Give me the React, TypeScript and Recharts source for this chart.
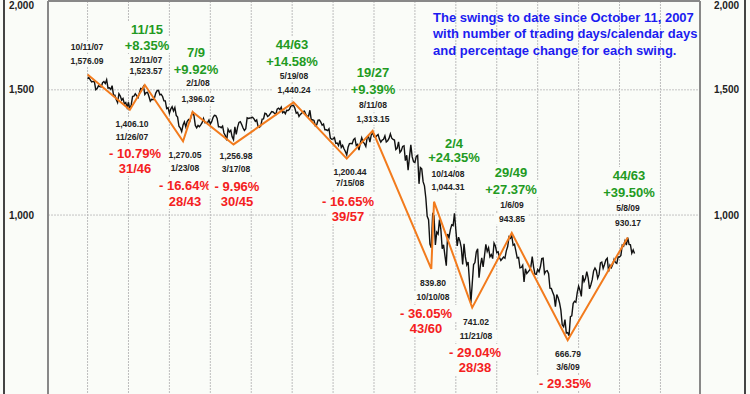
import React from "react";
import { LineChart, Line, XAxis, YAxis, CartesianGrid, ReferenceLine } from "recharts";

/* ── S&P 500 daily closes, 10/11/07 → 5/15/09 (trading-day index 0…401) ── */
const closesOct07 = [1554.41, 1561.8, 1548.71, 1538.53, 1541.24, 1540.08, 1500.63, 1506.33, 1519.59, 1515.88, 1514.4, 1535.28, 1540.98, 1531.02, 1549.38];
const closesNov07 = [1508.44, 1509.65, 1502.17, 1520.27, 1475.62, 1474.77, 1453.7, 1439.18, 1481.05, 1470.58, 1451.15, 1458.74, 1433.27, 1439.7, 1416.77, 1440.7, 1407.22, 1428.23, 1469.02, 1469.72, 1481.14];
const closesDec07 = [1472.42, 1462.79, 1485.01, 1507.34, 1504.66, 1515.96, 1477.65, 1486.59, 1488.41, 1467.95, 1445.9, 1454.98, 1453.0, 1460.12, 1484.46, 1496.45, 1497.66, 1476.27, 1478.49, 1468.36];
const closesJan08 = [1447.16, 1447.16, 1411.63, 1416.18, 1390.19, 1409.13, 1420.33, 1401.02, 1416.25, 1380.95, 1373.2, 1333.25, 1325.19, 1310.5, 1338.6, 1352.07, 1330.61, 1353.96, 1362.3, 1355.81, 1378.55];
const closesFeb08 = [1395.42, 1380.82, 1336.64, 1326.45, 1336.91, 1331.29, 1339.13, 1348.86, 1367.21, 1348.86, 1349.99, 1348.78, 1360.03, 1342.53, 1353.11, 1371.8, 1381.29, 1380.02, 1367.68, 1330.63];
const closesMar08 = [1331.34, 1326.75, 1333.7, 1304.34, 1293.37, 1273.37, 1320.65, 1308.77, 1315.48, 1288.14, 1276.6, 1330.74, 1298.42, 1329.51, 1349.88, 1352.99, 1341.13, 1325.76, 1315.22, 1322.7];
const closesApr08 = [1370.18, 1367.53, 1369.31, 1370.4, 1372.54, 1365.54, 1354.49, 1360.55, 1332.83, 1328.32, 1334.43, 1364.71, 1365.56, 1390.33, 1388.17, 1375.94, 1379.93, 1388.82, 1397.84, 1396.37, 1390.94, 1385.59];
const closesMay08 = [1409.34, 1413.9, 1407.49, 1418.26, 1392.57, 1397.68, 1388.28, 1403.58, 1403.04, 1408.66, 1423.57, 1425.35, 1426.63, 1413.4, 1390.71, 1394.35, 1375.93, 1385.35, 1390.84, 1398.26, 1400.38];
const closesJun08 = [1385.67, 1377.65, 1377.2, 1404.05, 1360.68, 1361.76, 1358.44, 1335.49, 1339.87, 1360.03, 1360.14, 1350.93, 1337.81, 1342.83, 1317.93, 1318.0, 1314.29, 1321.97, 1283.15, 1278.38, 1280.0];
const closesJul08 = [1284.91, 1261.52, 1262.9, 1252.31, 1273.7, 1244.69, 1253.39, 1239.49, 1228.3, 1214.91, 1245.36, 1260.32, 1260.68, 1260.0, 1277.0, 1282.19, 1252.54, 1257.76, 1234.37, 1263.2, 1284.26, 1267.38];
const closesAug08 = [1260.31, 1249.01, 1284.88, 1289.19, 1266.07, 1296.32, 1305.32, 1289.59, 1285.83, 1292.93, 1298.2, 1278.6, 1266.69, 1274.54, 1277.72, 1292.2, 1266.84, 1271.51, 1281.66, 1300.68, 1282.83];
const closesSep08 = [1277.58, 1274.98, 1236.83, 1242.31, 1267.79, 1224.51, 1232.04, 1249.05, 1251.7, 1192.7, 1213.6, 1156.39, 1206.51, 1255.08, 1207.09, 1188.22, 1185.87, 1209.18, 1213.27, 1106.39, 1166.36];
const closesOct08 = [1161.06, 1114.28, 1099.23, 1056.89, 996.23, 984.94, 909.92, 899.22, 1003.35, 998.01, 907.84, 946.43, 940.55, 985.4, 955.05, 896.78, 908.11, 876.77, 848.92, 940.51, 930.09, 954.09, 968.75];
const closesNov08 = [966.3, 1005.75, 952.77, 904.88, 930.99, 919.21, 898.95, 852.3, 911.29, 873.29, 850.75, 859.12, 806.58, 752.44, 800.03, 851.81, 857.39, 887.68, 896.24];
const closesDec08 = [816.21, 848.81, 870.74, 845.22, 876.07, 909.7, 888.67, 899.24, 873.59, 879.73, 868.57, 913.18, 904.42, 885.28, 887.88, 871.63, 863.16, 868.15, 872.8, 869.42, 890.64, 903.25];
const closesJan09 = [931.8, 927.45, 934.7, 906.65, 909.73, 890.35, 870.26, 871.79, 842.62, 843.74, 850.12, 805.22, 840.24, 827.5, 831.95, 836.57, 845.71, 874.09, 845.14, 825.88];
const closesFeb09 = [825.44, 838.51, 832.23, 845.85, 868.6, 869.89, 827.16, 833.74, 835.19, 826.84, 789.17, 788.42, 778.94, 770.05, 743.33, 773.14, 764.9, 752.83, 735.09];
const closesMar09 = [700.82, 696.33, 712.87, 682.55, 683.38, 676.53, 719.6, 721.36, 750.74, 756.55, 753.89, 778.12, 794.35, 784.04, 768.54, 822.92, 806.12, 813.88, 832.86, 815.94, 787.53, 797.87];
const closesApr09 = [811.08, 834.38, 842.5, 835.48, 815.55, 825.16, 856.56, 858.73, 841.5, 852.06, 865.3, 869.6, 832.39, 850.08, 843.55, 851.92, 866.23, 857.51, 855.16, 873.64, 872.81];
const closesMay09 = [877.52, 907.24, 903.8, 919.53, 907.39, 929.23, 909.24, 908.35, 883.92, 893.07, 882.88];

/* ── swing points ── */
const swingIdx = [0, 31, 42, 70, 77, 107, 151, 190, 209, 252, 254, 282, 311, 352, 396];
const swingValues = [1576.09, 1406.1, 1523.57, 1270.05, 1396.02, 1256.98, 1440.24, 1200.44, 1313.15, 839.8, 1044.31, 741.02, 943.85, 666.79, 930.17];
const swingDates = ["10/11/07", "11/26/07", "12/11/07", "1/23/08", "2/1/08", "3/17/08", "5/19/08", "7/15/08", "8/11/08", "10/10/08", "10/14/08", "11/21/08", "1/6/09", "3/6/09", "5/8/09"];
// change and trading/calendar days of the swing ending at each point
const swingPct = ["", "- 10.79%", "+8.35%", "- 16.64%", "+9.92%", "- 9.96%", "+14.58%", "- 16.65%", "+9.39%", "- 36.05%", "+24.35%", "- 29.04%", "+27.37%", "- 29.35%", "+39.50%"];
const swingDays = ["", "31/46", "11/15", "28/43", "7/9", "30/45", "44/63", "39/57", "19/27", "43/60", "2/4", "28/38", "29/49", "41/59", "44/63"];

const priceTicks = [1000, 1500, 2000];
const gridTicks = [0, 30, 60, 90, 120, 150, 180, 210, 240, 270, 300, 330, 360, 390, 420];
const xDomain = [-29, 449];

const noteLines = [
  "The swings to date since October 11, 2007",
  "with number of trading days/calendar days",
  "and percentage change for each swing.",
];

const closes = [
  ...closesOct07, ...closesNov07, ...closesDec07, ...closesJan08, ...closesFeb08, ...closesMar08,
  ...closesApr08, ...closesMay08, ...closesJun08, ...closesJul08, ...closesAug08, ...closesSep08,
  ...closesOct08, ...closesNov08, ...closesDec08, ...closesJan09, ...closesFeb09, ...closesMar09,
  ...closesApr09, ...closesMay09,
];
const prices = closes.map((c, i) => ({ i, c }));
const swings = swingIdx.map((i, k) => ({ i, s: swingValues[k] }));

/* label layout (pixel centres): date/value block, then %/days block */
const blockPos: { x: number; d: number; v: number; px: number; p: number; n: number }[] = [
  { x: 87, d: 47, v: 61, px: 0, p: -99, n: -99 },
  { x: 132, d: 137, v: 124, px: 135, p: 153, n: 168 },
  { x: 146, d: 60, v: 71, px: 147, p: 45, n: 29 },
  { x: 185, d: 168, v: 155, px: 185, p: 185, n: 201 },
  { x: 198, d: 83, v: 99, px: 196, p: 69, n: 52 },
  { x: 236, d: 169, v: 156, px: 237, p: 186, n: 201 },
  { x: 294, d: 76, v: 90, px: 292, p: 61, n: 44 },
  { x: 350, d: 183, v: 172, px: 348, p: 201, n: 216 },
  { x: 373, d: 105, v: 119, px: 373, p: 89, n: 72 },
  { x: 433, d: 297, v: 283, px: 426, p: 313, n: 328 },
  { x: 448, d: 174, v: 187, px: 454, p: 157, n: 143 },
  { x: 476, d: 336, v: 322, px: 475, p: 352, n: 367 },
  { x: 512, d: 205, v: 219, px: 511, p: 189, n: 172 },
  { x: 568, d: 367, v: 354, px: 565, p: 383, n: 398 },
  { x: 628, d: 208, v: 223, px: 629, p: 192, n: 175 },
];

const BG = "#fafcf8";
const FONT = "'Liberation Sans', Arial, Helvetica, sans-serif";
const fmt = (v: number) => v.toLocaleString("en-US", { minimumFractionDigits: 2, maximumFractionDigits: 2 });

function Tag({ x, y, text, size, color }: { x: number; y: number; text: string; size: number; color: string }) {
  if (y < 0 || y > 390) return null; // outside the visible frame
  const w = text.length * size * 0.58 + 4;
  const h = size + 3;
  return (
    <g>
      <rect x={x - w / 2} y={y - h / 2} width={w} height={h} fill={BG} />
      <text x={x} y={y} textAnchor="middle" dominantBaseline="central" fontSize={size} fontWeight="bold" fill={color} fontFamily={FONT}>
        {text}
      </text>
    </g>
  );
}

function Notes() {
  return (
    <svg width={750} height={394} style={{ position: "absolute", left: 0, top: 0, pointerEvents: "none" }}>
      {blockPos.map((b, k) => {
        const up = k > 0 && swingPct[k].startsWith("+");
        const pc = up ? "#229a22" : "#f42020";
        return (
          <g key={k}>
            <Tag x={b.x} y={b.d} text={swingDates[k]} size={8.5} color="#222" />
            <Tag x={b.x} y={b.v} text={fmt(swingValues[k])} size={8.5} color="#222" />
            {k > 0 && <Tag x={b.px} y={b.p} text={swingPct[k]} size={13} color={pc} />}
            {k > 0 && <Tag x={b.px} y={b.n} text={swingDays[k]} size={13} color={pc} />}
          </g>
        );
      })}
      {noteLines.map((t, k) => (
        <text key={k} x={433} y={17 + k * 16.5} dominantBaseline="central" fontSize={13} fontWeight="bold" fill="#1c1cf0" fontFamily={FONT}>
          {t}
        </text>
      ))}
      <line x1={48} y1={1} x2={700} y2={1} stroke="#888" strokeWidth={2} />
    </svg>
  );
}

const tickStyle = { fontSize: 10, fontWeight: "bold", fill: "#222", fontFamily: FONT };

export default function App() {
  return (
    <div style={{ position: "absolute", left: 0, top: 0, width: 750, height: 394, overflow: "hidden", background: BG }}>
      <LineChart width={750} height={417} margin={{ top: 1, right: 0, bottom: 0, left: 0 }}>
        <CartesianGrid xAxisId="x" yAxisId="l" vertical={false} stroke="#c4c4c4" strokeDasharray="2 1" />
        <XAxis
          xAxisId="x"
          type="number"
          dataKey="i"
          domain={xDomain}
          ticks={gridTicks}
          allowDataOverflow
          height={0}
          tick={false}
          tickLine={false}
          axisLine={false}
        />
        <YAxis
          yAxisId="l"
          scale="log"
          domain={[520, 2000]}
          ticks={priceTicks}
          allowDataOverflow
          width={48}
          tickLine={false}
          tickMargin={8}
          axisLine={{ stroke: "#888", strokeWidth: 2 }}
          tick={tickStyle}
          tickFormatter={(v: number) => v.toLocaleString("en-US")}
        />
        <YAxis
          yAxisId="r"
          orientation="right"
          scale="log"
          domain={[520, 2000]}
          ticks={priceTicks}
          allowDataOverflow
          width={50}
          tickLine={false}
          tickMargin={8}
          axisLine={{ stroke: "#888", strokeWidth: 2 }}
          tick={{ ...tickStyle, textAnchor: "start" }}
          tickFormatter={(v: number) => v.toLocaleString("en-US")}
        />
        {gridTicks.map((t) => (
          <ReferenceLine key={t} xAxisId="x" yAxisId="l" x={t} stroke="#bdbdbd" strokeDasharray="2 1" />
        ))}
        <Line xAxisId="x" yAxisId="l" data={prices} dataKey="c" type="linear" stroke="#111" strokeWidth={1.4} dot={false} isAnimationActive={false} />
        <Line xAxisId="x" yAxisId="l" data={swings} dataKey="s" type="linear" stroke="#f27b1d" strokeWidth={2} dot={false} isAnimationActive={false} />
      </LineChart>
      <Notes />
      <div style={{ position: "absolute", left: 3, top: 0, width: 2, height: 394, background: "#444" }} />
      <div style={{ position: "absolute", left: 744, top: 0, width: 2, height: 394, background: "#444" }} />
    </div>
  );
}
